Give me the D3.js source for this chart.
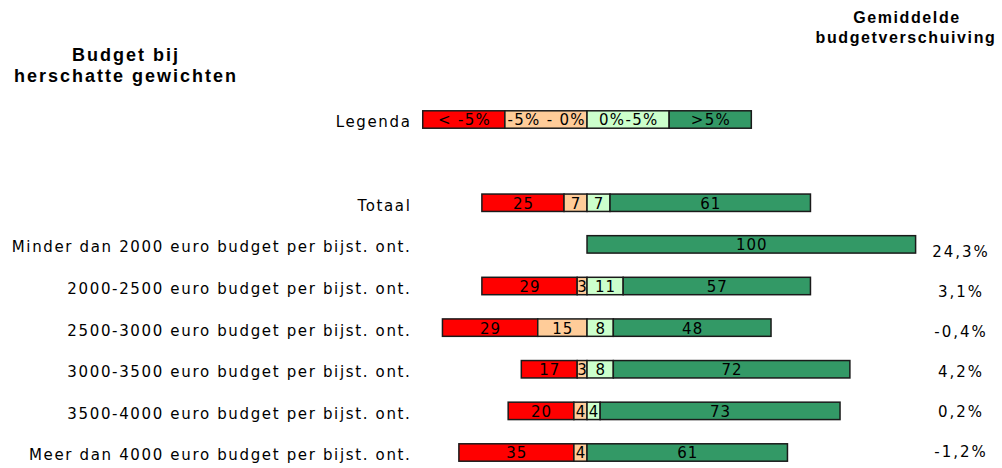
<!DOCTYPE html>
<html>
<head>
<meta charset="utf-8">
<script src="https://cdn.jsdelivr.net/npm/d3@7/dist/d3.min.js"></script>
<style>
  html, body { margin: 0; padding: 0; background: #fff; }
  svg { display: block; }
  .lbl { font-family: "DejaVu Sans", Verdana, sans-serif; font-size: 15px; fill: #000; }
  .title { font-family: "Liberation Sans", Arial, sans-serif; font-weight: bold; fill: #000; }
</style>
</head>
<body>
<svg id="chart" width="1002" height="468"></svg>
<script>
// Rows of the chart (top to bottom)
const categories = [
  "Totaal",
  "Minder dan 2000 euro budget per bijst. ont.",
  "2000-2500 euro budget per bijst. ont.",
  "2500-3000 euro budget per bijst. ont.",
  "3000-3500 euro budget per bijst. ont.",
  "3500-4000 euro budget per bijst. ont.",
  "Meer dan 4000 euro budget per bijst. ont."
];

// Share of units (%) per class of budget shift
const dalingSterk   = [25, 0, 29, 29, 17, 20, 35];   // < -5%
const dalingLicht   = [7, 0, 3, 15, 3, 4, 4];        // -5% - 0%
const stijgingLicht = [7, 0, 11, 8, 8, 4, 0];        // 0%-5%
const stijgingSterk = [61, 100, 57, 48, 72, 73, 61]; // >5%

// Average budget shift per row (Totaal has none)
const gemiddelde = [null, "24,3%", "3,1%", "-0,4%", "4,2%", "0,2%", "-1,2%"];

// Legend classes and their (equal) widths
const legendLabels = ["< -5%", "-5% - 0%", "0%-5%", ">5%"];
const legendShares = [25, 25, 25, 25];

const colors = ["#ff0000", "#ffcc99", "#ccffcc", "#339966"];

const svg = d3.select("#chart");

// Horizontal scale: 0 is the split between decreases and increases
const x = d3.scaleLinear().domain([-40, 100]).range([455.6, 915.6]);

// Vertical slots: legend, empty gap, then the data rows
const slots = ["Legenda", "_gap", ...categories];
const y = d3.scalePoint().domain(slots).range([119.5, 452.5]);
const barH = 17.4;

// Stack one row: decreases to the left of 0, increases to the right
function segments(vals) {
  const negTotal = vals[0] + vals[1];
  let pos = -negTotal;
  return vals.map((v, i) => {
    const s = { x0: pos, x1: pos + v, v, i };
    pos += v;
    return s;
  });
}

// Row labels on the left
svg.append("g").selectAll("text")
  .data(slots.filter(d => d !== "_gap"))
  .join("text")
  .attr("class", "lbl")
  .attr("x", 411.5)
  .attr("y", d => y(d) + 2.5)
  .attr("dy", "0.36em")
  .attr("text-anchor", "end")
  .style("letter-spacing", "1.65px")
  .text(d => d);

// Legend bar
const legendSegs = segments(legendShares);
const lg = svg.append("g");
lg.selectAll("rect").data(legendSegs).join("rect")
  .attr("x", d => x(d.x0)).attr("width", d => x(d.x1) - x(d.x0))
  .attr("y", y("Legenda") - barH / 2).attr("height", barH)
  .attr("fill", d => colors[d.i]).attr("stroke", "#1a1a1a").attr("stroke-width", 1.5);
lg.selectAll("text").data(legendSegs).join("text")
  .attr("class", "lbl")
  .attr("x", d => (x(d.x0) + x(d.x1)) / 2 + 0.7)
  .attr("y", y("Legenda") + 0.5).attr("dy", "0.36em")
  .attr("text-anchor", "middle")
  .style("letter-spacing", "1.3px")
  .text((d, i) => legendLabels[i]);

// Data bars
const rowsData = categories.map((c, r) => ({
  c,
  segs: segments([dalingSterk[r], dalingLicht[r], stijgingLicht[r], stijgingSterk[r]]).filter(s => s.v > 0)
}));

const rows = svg.append("g").selectAll("g").data(rowsData).join("g")
  .attr("transform", d => `translate(0,${y(d.c)})`);

rows.selectAll("rect").data(d => d.segs).join("rect")
  .attr("x", d => x(d.x0)).attr("width", d => x(d.x1) - x(d.x0))
  .attr("y", -barH / 2).attr("height", barH)
  .attr("fill", d => colors[d.i]).attr("stroke", "#1a1a1a").attr("stroke-width", 1.5);

rows.selectAll("text").data(d => d.segs).join("text")
  .attr("class", "lbl")
  .attr("x", d => (x(d.x0) + x(d.x1)) / 2 + 0.5)
  .attr("y", 0.5).attr("dy", "0.36em")
  .attr("text-anchor", "middle")
  .style("letter-spacing", "1px")
  .text(d => d.v);

// Average shift column
const yAvg = d3.scalePoint().domain(categories.slice(1)).range([252, 452]);
svg.append("g").selectAll("text")
  .data(categories.slice(1).map((c, i) => ({ c, v: gemiddelde[i + 1] })))
  .join("text")
  .attr("class", "lbl")
  .attr("x", 961)
  .attr("y", d => yAvg(d.c)).attr("dy", "0.36em")
  .attr("text-anchor", "middle")
  .style("letter-spacing", "2px")
  .text(d => d.v);

// Titles
const t1 = svg.append("text").attr("class", "title").attr("text-anchor", "middle")
  .attr("x", 126).attr("y", 60.5).style("font-size", "18px").style("letter-spacing", "2px");
t1.append("tspan").attr("x", 126).text("Budget bij");
t1.append("tspan").attr("x", 126).attr("dy", 21).text("herschatte gewichten");

const t2 = svg.append("text").attr("class", "title").attr("text-anchor", "middle")
  .attr("x", 907).attr("y", 23).style("font-size", "16px").style("letter-spacing", "1.6px");
t2.append("tspan").attr("x", 907).text("Gemiddelde");
t2.append("tspan").attr("x", 906).attr("dy", 20).text("budgetverschuiving");
</script>
</body>
</html>
